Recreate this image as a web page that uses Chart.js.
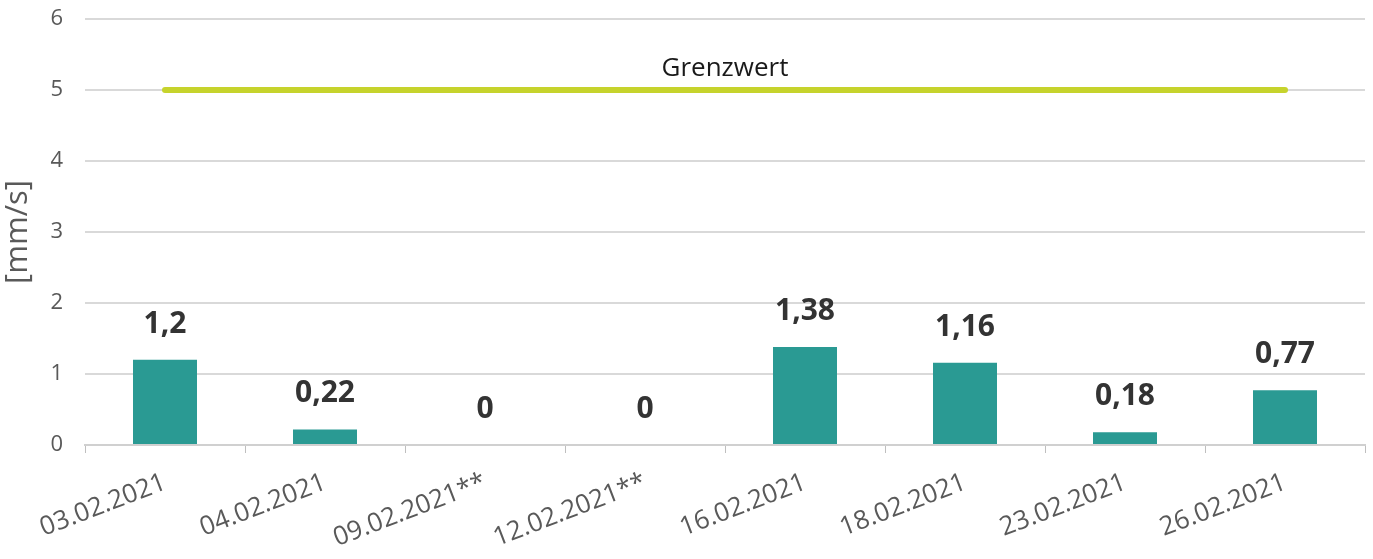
<!DOCTYPE html>
<html>
<head>
<meta charset="utf-8">
<script src="https://cdn.jsdelivr.net/npm/chart.js@4/dist/chart.umd.min.js"></script>
<style>
    html, body { margin: 0; padding: 0; background: #fff; }
    #wrap { width: 1373px; height: 559px; }
</style>
</head>
<body>
<div id="wrap"><canvas id="chart"></canvas></div>
<script>
const dates = ['03.02.2021', '04.02.2021', '09.02.2021**', '12.02.2021**', '16.02.2021', '18.02.2021', '23.02.2021', '26.02.2021'];
const speeds = [1.2, 0.22, 0, 0, 1.38, 1.16, 0.18, 0.77];
const limitValues = [5, 5, 5, 5, 5, 5, 5, 5];
const limitLabel = 'Grenzwert';
const yTicks = [0, 1, 2, 3, 4, 5, 6];

const FONT = "'Open Sans', sans-serif";

// value labels above the bars + "Grenzwert" text above the line
const labelPlugin = {
    id: 'labels',
    afterDatasetsDraw: function (chart) {
        const ctx = chart.ctx;
        ctx.save();
        const bars = chart.getDatasetMeta(0).data;
        ctx.font = 'bold 30px ' + FONT;
        ctx.fillStyle = '#333333';
        ctx.textAlign = 'center';
        ctx.textBaseline = 'alphabetic';
        bars.forEach(function (bar, i) {
            const text = String(speeds[i]).replace('.', ',');
            ctx.fillText(text, bar.x, bar.y - 27);
        });
        const pts = chart.getDatasetMeta(1).data;
        const midX = (pts[0].x + pts[pts.length - 1].x) / 2;
        ctx.font = '26px ' + FONT;
        ctx.fillStyle = '#1a1a1a';
        ctx.fillText(limitLabel, midX, pts[0].y - 14);
        ctx.restore();
    }
};

new Chart(document.getElementById('chart'), {
    type: 'bar',
    data: {
        labels: dates,
        datasets: [
            {
                type: 'bar',
                data: speeds,
                backgroundColor: '#2a9a93',
                barPercentage: 0.4,
                categoryPercentage: 1,
                order: 2
            },
            {
                type: 'line',
                data: limitValues,
                borderColor: '#c6d32c',
                borderWidth: 6,
                borderCapStyle: 'round',
                pointRadius: 0,
                fill: false,
                order: 1
            }
        ]
    },
    options: {
        responsive: true,
        maintainAspectRatio: false,
        animation: false,
        layout: { padding: { top: 19, right: 8, left: 0, bottom: 0 } },
        plugins: {
            legend: { display: false },
            tooltip: { enabled: false }
        },
        scales: {
            x: {
                offset: true,
                grid: {
                    offset: true,
                    drawOnChartArea: false,
                    drawTicks: true,
                    tickLength: 8,
                    color: '#bfbfbf'
                },
                border: { color: '#d0d0d0', width: 2 },
                ticks: {
                    color: '#595959',
                    font: { family: FONT, size: 26 },
                    minRotation: 21,
                    maxRotation: 21,
                    padding: 14,
                    autoSkip: false
                },
                afterFit: function (scale) {
                    scale.height = 114;
                    scale.paddingLeft = 0;
                    scale.paddingRight = 0;
                }
            },
            y: {
                min: 0,
                max: 6,
                afterBuildTicks: function (scale) {
                    scale.ticks = yTicks.map(v => ({ value: v }));
                },
                grid: { color: '#d9d9d9', lineWidth: 2, drawTicks: false },
                border: { display: false },
                ticks: {
                    color: '#595959',
                    font: { family: FONT, size: 22 },
                    padding: 22
                },
                title: {
                    display: true,
                    text: '[mm/s]',
                    color: '#595959',
                    font: { family: FONT, size: 31 },
                    padding: { top: 0, bottom: 2 }
                },
                afterFit: function (scale) {
                    scale.width = 85;
                    scale.paddingTop = 0;
                    scale.paddingBottom = 0;
                }
            }
        }
    },
    plugins: [labelPlugin]
});
</script>
</body>
</html>
